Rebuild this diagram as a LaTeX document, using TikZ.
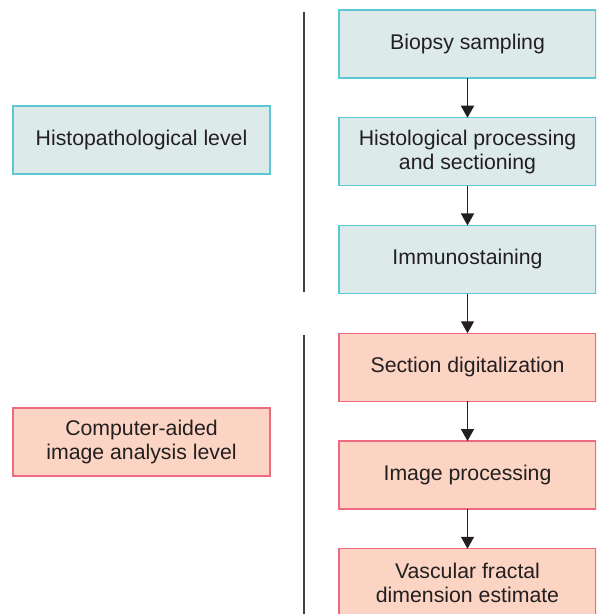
\documentclass[tikz,border=0pt]{standalone}
\usepackage{fontspec}
\setmainfont{Liberation Sans}
\usetikzlibrary{positioning,arrows.meta}
\definecolor{histofill}{HTML}{DCEBEA}
\definecolor{histoline}{HTML}{5CC8D6}
\definecolor{cadfill}{HTML}{FBD4C3}
\definecolor{cadline}{HTML}{EE6A80}
\definecolor{txt}{HTML}{231F20}
\tikzset{
  stagebox/.style={draw,line width=0.6pt,outer sep=0pt,minimum width=5.14cm,minimum height=1.36cm,align=center,font=\fontsize{12.1}{13.5}\selectfont,text=txt},
  histo/.style={stagebox,fill=histofill,draw=histoline},
  cad/.style={stagebox,fill=cadfill,draw=cadline},
  flow/.style={-{Triangle[width=2.6mm,length=2.4mm]},line width=0.8pt,txt},
  divider/.style={line width=0.8pt,black!75}
}
\begin{document}
\begin{tikzpicture}
\pgfmathsetmacro{\gap}{0.795}
\clip (0,0) rectangle (11.92,-12.28);
\useasboundingbox (0,0) rectangle (11.92,-12.28);
%level boxes
\node[histo] (histlevel) at (2.83,-2.8) {Histopathological level};
\node[cad] (cadlevel) at (2.83,-8.84) {Computer-aided\\image analysis level};
%dividers
\draw[divider] (6.08,-0.24)--(6.08,-5.84);
\draw[divider] (6.08,-6.7)--(6.08,-12.28);
%steps
\node[histo] (biopsy) at (9.35,-0.88) {Biopsy sampling};
\node[histo,below=\gap cm of biopsy] (processing) {Histological processing\\and sectioning};
\node[histo,below=\gap cm of processing] (immuno) {Immunostaining};
\node[cad,below=\gap cm of immuno] (digital) {Section digitalization};
\node[cad,below=\gap cm of digital] (imgproc) {Image processing};
\node[cad,below=\gap cm of imgproc] (fractal) {Vascular fractal\\dimension estimate};
%arrows
\draw[flow] (biopsy)--(processing);
\draw[flow] (processing)--(immuno);
\draw[flow] (immuno)--(digital);
\draw[flow] (digital)--(imgproc);
\draw[flow] (imgproc)--(fractal);
\end{tikzpicture}
\end{document}
